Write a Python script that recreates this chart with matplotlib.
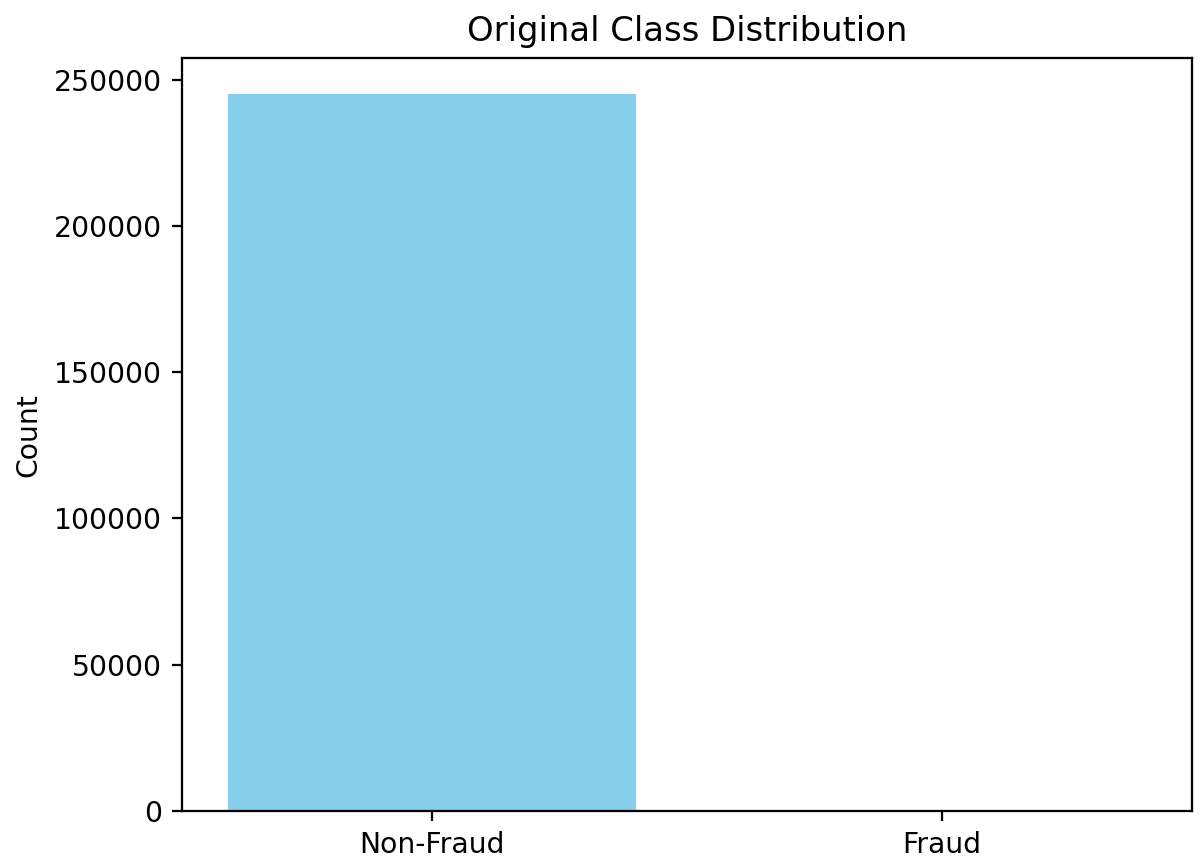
import matplotlib
matplotlib.use("Agg")
import matplotlib.pyplot as plt

categories = ["Non-Fraud", "Fraud"]
counts = [245000, 420]

DPI = 203.5
fig = plt.figure(figsize=(1200 / DPI, 866 / DPI), dpi=DPI)
W, H = 1200, 866
left, right, top, bottom = 181.7, 1192, 58.3, 811
ax = fig.add_axes([left / W, 1 - bottom / H, (right - left) / W, (bottom - top) / H])
ax.bar(categories, counts, color="skyblue")
ax.set_title("Original Class Distribution")
ax.set_ylabel("Count")
fig.savefig("out.png", dpi=DPI)
